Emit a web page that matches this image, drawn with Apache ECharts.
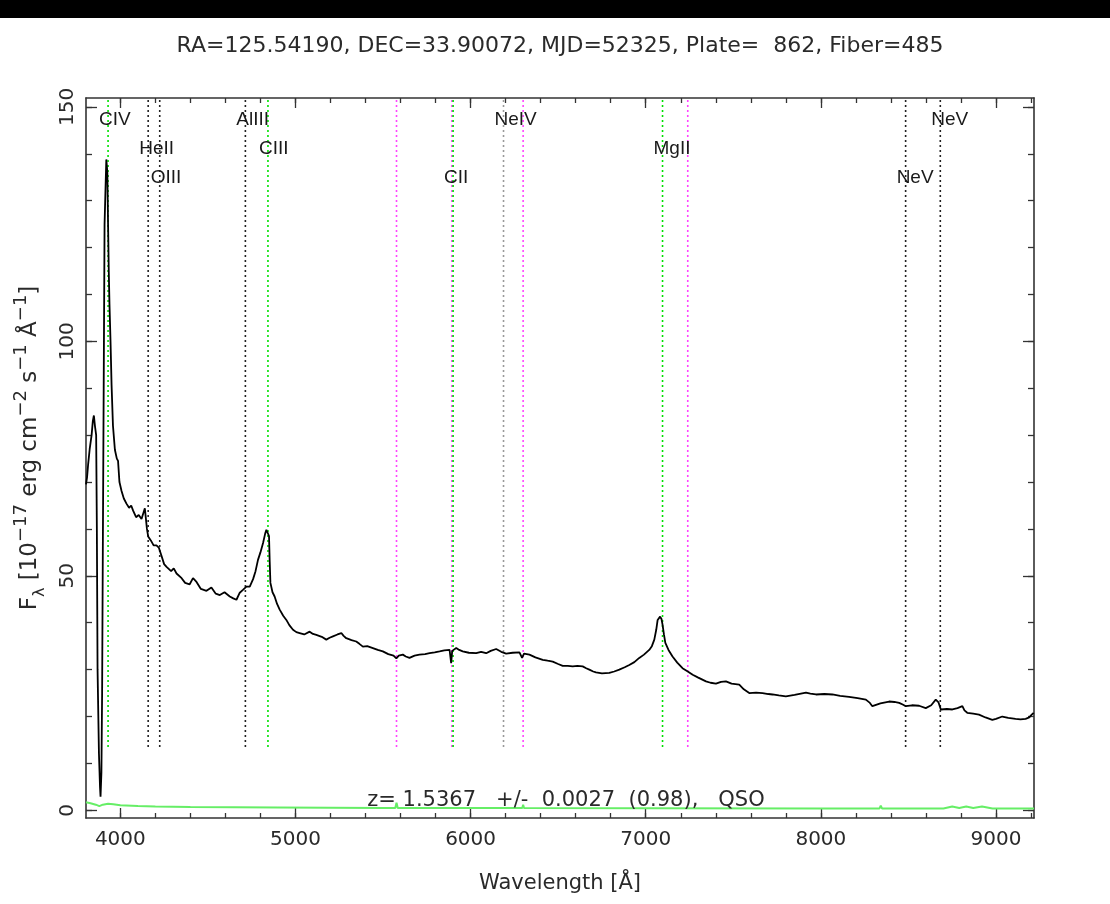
<!DOCTYPE html>
<html>
<head>
<meta charset="utf-8">
<script src="https://cdn.jsdelivr.net/npm/echarts@6/dist/echarts.min.js"></script>
<style>
  html, body { margin: 0; padding: 0; background: #fff; }
  #chart { width: 1110px; height: 904px; }
</style>
</head>
<body>
<div id="chart"></div>
<script>
// ---------------- DATA ----------------
const titleText = 'RA=125.54190, DEC=33.90072, MJD=52325, Plate=  862, Fiber=485';
const fitText = 'z= 1.5367   +/-  0.0027  (0.98),   QSO';
const xAxisTitle = 'Wavelength [Å]';

const xMajorTicks = [4000, 5000, 6000, 7000, 8000, 9000];
const xMinorTicks = [3800, 4000, 4200, 4400, 4600, 4800, 5000, 5200, 5400, 5600, 5800, 6000, 6200, 6400, 6600, 6800, 7000, 7200, 7400, 7600, 7800, 8000, 8200, 8400, 8600, 8800, 9000, 9200];
const yMajorTicks = [0, 50, 100, 150];
const yMinorTicks = [0, 10, 20, 30, 40, 50, 60, 70, 80, 90, 100, 110, 120, 130, 140, 150];

// spectrum (wavelength in Å, flux in 1e-17 erg/cm2/s/Å)
const specWave = [3804, 3810, 3816, 3825, 3836, 3843, 3849, 3855, 3862, 3866, 3870, 3878, 3884, 3887, 3892, 3896, 3900, 3905, 3910, 3915, 3920, 3926, 3930, 3934, 3938, 3944, 3950, 3958, 3969, 3980, 3987, 3995, 4007, 4020, 4035, 4050, 4062, 4073, 4090, 4105, 4121, 4130, 4140, 4148, 4152, 4159, 4175, 4190, 4206, 4220, 4235, 4250, 4264, 4290, 4305, 4321, 4350, 4370, 4396, 4415, 4435, 4460, 4492, 4520, 4545, 4568, 4595, 4625, 4645, 4663, 4682, 4700, 4720, 4739, 4758, 4772, 4786, 4800, 4815, 4827, 4834, 4842, 4849, 4853, 4857, 4869, 4881, 4895, 4910, 4930, 4948, 4965, 4986, 5005, 5024, 5050, 5081, 5100, 5119, 5150, 5176, 5195, 5214, 5240, 5262, 5275, 5290, 5320, 5347, 5365, 5385, 5410, 5442, 5470, 5499, 5530, 5560, 5576, 5590, 5613, 5630, 5651, 5680, 5708, 5740, 5766, 5795, 5823, 5850, 5880, 5889, 5895, 5918, 5935, 5955, 5990, 6032, 6060, 6089, 6115, 6146, 6175, 6203, 6240, 6279, 6294, 6305, 6336, 6370, 6412, 6440, 6469, 6500, 6526, 6555, 6583, 6610, 6640, 6660, 6678, 6700, 6716, 6750, 6792, 6820, 6849, 6880, 6906, 6935, 6963, 6990, 7020, 7035, 7049, 7060, 7068, 7082, 7090, 7096, 7104, 7112, 7130, 7153, 7180, 7210, 7240, 7268, 7300, 7344, 7370, 7401, 7430, 7458, 7490, 7534, 7560, 7591, 7630, 7667, 7700, 7724, 7760, 7800, 7850, 7915, 7940, 7972, 8020, 8066, 8110, 8161, 8210, 8257, 8280, 8294, 8340, 8390, 8420, 8447, 8470, 8485, 8520, 8561, 8599, 8630, 8656, 8672, 8685, 8720, 8751, 8780, 8808, 8820, 8836, 8870, 8903, 8940, 8979, 9000, 9036, 9070, 9112, 9140, 9169, 9190, 9204, 9215];
const specFlux = [69.5, 71.0, 73.7, 77.0, 80.0, 83.0, 84.2, 82.0, 80.0, 60.0, 30.0, 12.0, 5.0, 2.9, 8.0, 25.0, 55.0, 90.0, 125.0, 132.0, 138.8, 136.0, 125.0, 115.0, 108.0, 100.0, 90.7, 82.0, 76.9, 75.0, 74.5, 70.0, 68.1, 66.5, 65.4, 64.5, 65.0, 63.9, 62.5, 63.0, 62.1, 62.5, 64.4, 64.8, 60.0, 58.4, 57.5, 56.5, 56.5, 56.0, 54.3, 52.5, 51.9, 51.0, 51.6, 50.5, 49.5, 48.5, 48.2, 49.5, 48.7, 47.2, 46.8, 47.5, 46.2, 45.9, 46.5, 45.6, 45.2, 44.9, 46.4, 47.0, 47.7, 47.7, 49.3, 51.0, 53.4, 55.0, 57.0, 59.0, 59.8, 59.5, 58.5, 53.0, 48.5, 46.5, 45.6, 44.0, 42.8, 41.5, 40.6, 39.5, 38.5, 38.0, 37.8, 37.5, 38.1, 37.6, 37.4, 37.0, 36.4, 36.8, 37.1, 37.5, 37.8, 37.2, 36.7, 36.3, 36.0, 35.5, 34.9, 35.0, 34.6, 34.2, 33.9, 33.3, 33.0, 32.4, 33.0, 33.2, 32.8, 32.5, 33.0, 33.2, 33.3, 33.5, 33.7, 33.9, 34.1, 34.2, 31.4, 34.0, 34.6, 34.2, 33.9, 33.6, 33.5, 33.8, 33.5, 34.0, 34.4, 33.8, 33.4, 33.6, 33.7, 32.5, 33.4, 33.2, 32.6, 32.1, 31.9, 31.7, 31.2, 30.8, 30.8, 30.7, 30.8, 30.7, 30.3, 30.0, 29.6, 29.4, 29.2, 29.3, 29.6, 30.0, 30.5, 31.0, 31.6, 32.5, 33.2, 34.2, 35.0, 36.4, 38.5, 40.6, 41.3, 40.8, 39.6, 37.5, 35.7, 34.2, 32.8, 31.5, 30.3, 29.6, 28.9, 28.3, 27.5, 27.2, 27.0, 27.4, 27.5, 27.0, 26.8, 25.8, 25.0, 25.1, 25.0, 24.8, 24.7, 24.5, 24.3, 24.6, 25.1, 24.9, 24.7, 24.8, 24.7, 24.4, 24.2, 23.9, 23.6, 22.9, 22.2, 22.8, 23.2, 23.1, 22.9, 22.5, 22.2, 22.4, 22.3, 21.8, 22.4, 23.6, 23.0, 21.5, 21.6, 21.5, 21.8, 22.2, 21.3, 20.8, 20.6, 20.4, 19.8, 19.3, 19.5, 20.0, 19.7, 19.5, 19.4, 19.5, 19.8, 20.4, 20.8];

// error spectrum
const errWave = [3804, 3830, 3860, 3880, 3900, 3930, 3960, 4000, 4100, 4200, 4400, 4900, 5500, 5570, 5577, 5584, 6295, 6300, 6305, 7000, 8000, 8335, 8342, 8349, 8700, 8750, 8790, 8830, 8870, 8920, 8980, 9217];
const errFlux = [1.7, 1.5, 1.2, 0.9, 1.2, 1.4, 1.3, 1.1, 0.9, 0.8, 0.7, 0.6, 0.5, 0.5, 1.6, 0.5, 0.5, 1.2, 0.5, 0.45, 0.4, 0.4, 1.0, 0.4, 0.4, 0.8, 0.5, 0.8, 0.5, 0.8, 0.4, 0.4];

// identified lines at z = 1.5367
const lineName = ['CIV', 'HeII', 'OIII', 'AlIII', 'CIII', 'CII', 'NeIV', 'MgII', 'NeV', 'NeV'];
const lineWave = [3930, 4159, 4225, 4714, 4843, 5900, 6188, 7096, 8484, 8682];
const lineKind = ['fit', 'other', 'other', 'other', 'fit', 'fit', 'weak', 'fit', 'other', 'other'];
// sky lines
const skyWave = [5577, 5893, 6300, 7240];

// ---------------- STYLE / LAYOUT ----------------
const labelTierY = [147.2, 141.0, 134.8];
const lineTier = [0, 1, 2, 0, 1, 2, 0, 1, 2, 0];
const kindColor = { fit: '#00e000', other: '#222222', weak: '#999999' };
const markLo = 13.5, markHi = 152;
const X_MIN = 3804, X_MAX = 9217, Y_MIN = -1.64, Y_MAX = 151.9;
const TXT = '#2a2a2a';
const FONT = 'DejaVu Sans';

const chart = echarts.init(document.getElementById('chart'), null, { renderer: 'canvas' });

function zip(a, b) { return a.map((v, i) => [v, b[i]]); }

const series = [];
skyWave.forEach(w => {
  series.push({
    type: 'line', data: [[w, markLo], [w, markHi]], symbol: 'none', silent: true,
    lineStyle: { color: '#ff44ff', width: 1.6, type: [2, 3] }, z: 2
  });
});
lineWave.forEach((w, i) => {
  series.push({
    type: 'line', data: [[w, markLo], [w, markHi]], symbol: 'none', silent: true,
    lineStyle: { color: kindColor[lineKind[i]], width: 1.6, type: [2, 3] }, z: 3
  });
});
series.push({
  type: 'scatter', symbolSize: 0, silent: true, z: 6,
  data: lineWave.map((w, i) => ({ value: [w, labelTierY[lineTier[i]]], name: lineName[i] })),
  label: {
    show: true, position: [-9, 0], align: 'left', verticalAlign: 'middle',
    formatter: p => p.name, color: '#1a1a1a', fontSize: 19, fontFamily: 'Liberation Sans'
  },
  itemStyle: { opacity: 1 }
});
series.push({
  type: 'line', data: zip(errWave, errFlux), symbol: 'none', silent: true,
  lineStyle: { color: '#66ee66', width: 2 }, z: 4
});
series.push({
  type: 'line', data: zip(specWave, specFlux), symbol: 'none', silent: true,
  lineStyle: { color: '#000', width: 1.8 }, z: 5
});

const axisLineStyle = { color: '#333', width: 1.6 };
function xAx(pos, ticks, len, showLine, showLabel) {
  return {
    type: 'value', gridIndex: 0, position: pos, min: X_MIN, max: X_MAX,
    axisLine: { show: showLine, onZero: false, lineStyle: axisLineStyle },
    axisTick: { show: true, inside: true, length: len, customValues: ticks, lineStyle: { color: '#333', width: 1.3 } },
    axisLabel: showLabel ? { show: true, customValues: xMajorTicks, formatter: v => String(v), margin: 12, color: TXT, fontSize: 20, fontFamily: FONT } : { show: false },
    splitLine: { show: false }
  };
}
function yAx(pos, ticks, len, showLine, showLabel) {
  return {
    type: 'value', gridIndex: 0, position: pos, min: Y_MIN, max: Y_MAX,
    axisLine: { show: showLine, onZero: false, lineStyle: axisLineStyle },
    axisTick: { show: true, inside: true, length: len, customValues: ticks, lineStyle: { color: '#333', width: 1.3 } },
    axisLabel: showLabel ? { show: true, customValues: yMajorTicks, formatter: v => String(v), rotate: 90, margin: 8, color: TXT, fontSize: 20, fontFamily: FONT } : { show: false },
    splitLine: { show: false }
  };
}

const option = {
  animation: false,
  backgroundColor: '#fff',
  grid: { left: 86, top: 98, width: 948, height: 720, containLabel: false },
  xAxis: [
    xAx('bottom', xMajorTicks, 10, true, true),
    xAx('bottom', xMinorTicks, 5, false, false),
    xAx('top', xMajorTicks, 10, true, false),
    xAx('top', xMinorTicks, 5, false, false)
  ],
  yAxis: [
    yAx('left', yMajorTicks, 11, true, true),
    yAx('left', yMinorTicks, 6, false, false),
    yAx('right', yMajorTicks, 11, true, false),
    yAx('right', yMinorTicks, 6, false, false)
  ],
  series: series,
  graphic: [
    { type: 'rect', shape: { x: 0, y: 0, width: 1110, height: 18 }, style: { fill: '#000' }, silent: true },
    { type: 'text', x: 560, y: 46, style: { text: titleText, align: 'center', verticalAlign: 'middle', fill: TXT, fontSize: 22, fontFamily: FONT } },
    { type: 'text', x: 566, y: 801, z: 100, style: { text: fitText, align: 'center', verticalAlign: 'middle', fill: TXT, fontSize: 21, fontFamily: FONT } },
    { type: 'text', x: 560, y: 884, style: { text: xAxisTitle, align: 'center', verticalAlign: 'middle', fill: TXT, fontSize: 21, fontFamily: FONT } },
    {
      type: 'text', x: 30, y: 448, rotation: Math.PI / 2,
      style: {
        text: 'F{sub|λ} [10{sup|−17} erg cm{sup|−2} s{sup|−1} Å{sup|−1}]',
        align: 'center', verticalAlign: 'middle', fill: TXT, fontSize: 23, fontFamily: FONT, lineHeight: 36,
        rich: {
          sup: { fontSize: 18, verticalAlign: 'top', lineHeight: 36, fill: TXT, fontFamily: FONT },
          sub: { fontSize: 16, verticalAlign: 'bottom', lineHeight: 36, fill: TXT, fontFamily: FONT }
        }
      }
    }
  ]
};
chart.setOption(option);
</script>
</body>
</html>
